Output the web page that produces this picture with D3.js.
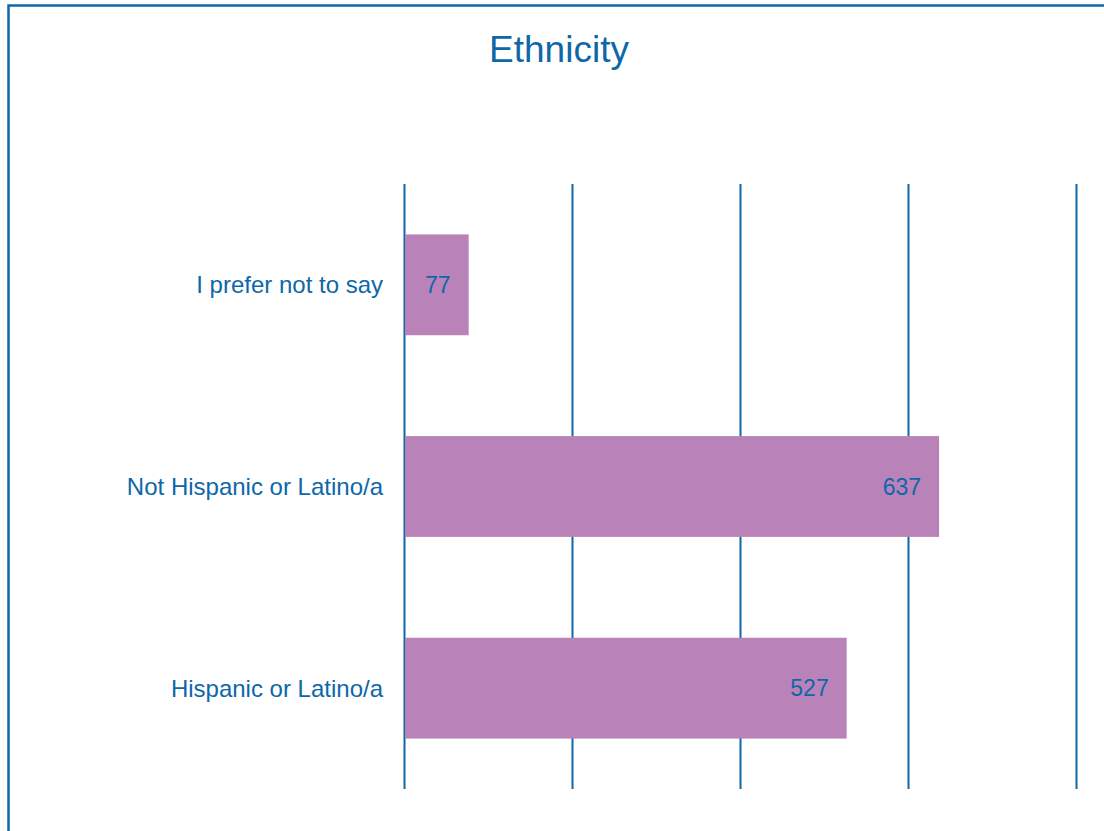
<!DOCTYPE html>
<html>
<head>
<meta charset="utf-8">
<script src="https://cdn.jsdelivr.net/npm/d3@7"></script>
<style>
  body { margin: 0; background: #fff; }
  svg { display: block; font-family: "Liberation Sans", Arial, sans-serif; }
</style>
</head>
<body>
<div id="chart"></div>
<script>
var categories = ["I prefer not to say", "Not Hispanic or Latino/a", "Hispanic or Latino/a"];
var counts = [77, 637, 527];
var tickValues = [0, 200, 400, 600, 800];

var width = 1104, height = 831;
var blue = "#0e67a8";
var barColor = "#b983ba";

var svg = d3.select("#chart")
    .append("svg")
    .attr("width", width)
    .attr("height", height);

// outer frame, runs off the right and bottom edges
svg.append("rect")
    .attr("x", 8.5)
    .attr("y", 5.5)
    .attr("width", width + 20)
    .attr("height", height + 20)
    .style("fill", "none")
    .style("stroke", blue)
    .style("stroke-width", 2.5);

svg.append("text")
    .attr("x", 559)
    .attr("y", 62)
    .attr("text-anchor", "middle")
    .style("font-size", "37px")
    .style("fill", blue)
    .text("Ethnicity");

var x = d3.scaleLinear()
    .domain([0, 800])
    .range([404, 1076]);

var y = d3.scaleBand()
    .domain(categories)
    .range([184, 789])
    .paddingInner(0.5)
    .paddingOuter(0.25);

var data = categories.map(function(c, i) { return {name: c, value: counts[i]}; });

// gridlines
svg.append("g")
    .attr("transform", "translate(0,184)")
    .call(d3.axisBottom(x).tickValues(tickValues).tickSize(605).tickFormat(""))
    .call(function(g) {
        g.select(".domain").remove();
        g.selectAll(".tick line").style("stroke", blue).style("stroke-width", 2);
    });

//bars
svg.selectAll("rect.bar")
    .data(data)
    .enter()
    .append("rect")
    .attr("class", "bar")
    .attr("x", x(0) + 1)
    .attr("y", function(d) { return y(d.name); })
    .attr("width", function(d) { return x(d.value) - x(0) - 1; })
    .attr("height", y.bandwidth())
    .style("fill", barColor);

svg.selectAll("text.val")
    .data(data)
    .enter()
    .append("text")
    .attr("class", "val")
    .attr("x", function(d) { return x(d.value) - 18; })
    .attr("y", function(d) { return y(d.name) + y.bandwidth() / 2; })
    .attr("dy", "0.36em")
    .attr("text-anchor", "end")
    .style("font-size", "23px")
    .style("fill", blue)
    .text(function(d) { return d.value; });

svg.selectAll("text.cat")
    .data(data)
    .enter()
    .append("text")
    .attr("class", "cat")
    .attr("x", 383)
    .attr("y", function(d) { return y(d.name) + y.bandwidth() / 2; })
    .attr("dy", "0.36em")
    .attr("text-anchor", "end")
    .style("font-size", "24px")
    .style("fill", blue)
    .text(function(d) { return d.name; });
</script>
</body>
</html>
